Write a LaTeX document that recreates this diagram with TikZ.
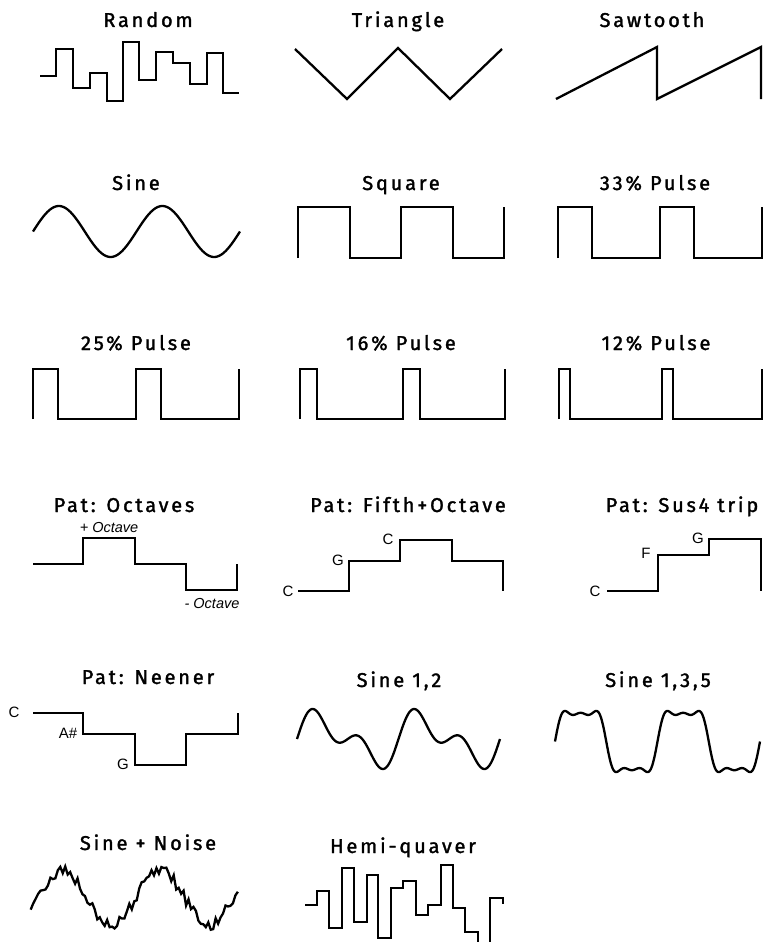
\documentclass[tikz,border=0pt]{standalone}
\usepackage{fontspec}
\setmainfont{Liberation Sans}
\newfontfamily\titlefont{Fira Sans}[LetterSpace=14, FakeBold=1.6]
\begin{document}
\begin{tikzpicture}[x=1pt,y=-1pt,
  wave/.style={line width=2.3pt, line join=miter, line cap=butt},
  title/.style={font=\titlefont\fontsize{20}{22}\selectfont, inner sep=0pt, anchor=base},
  note/.style={font=\fontsize{15}{17}\selectfont, inner sep=0pt},
  ital/.style={font=\itshape\fontsize{14.5}{16}\selectfont, inner sep=0pt}]
\useasboundingbox (0,0) rectangle (765,942);
\clip (0,0) rectangle (765,942);
% ---- Row 1
\node[title] (tRandom) at (148,27) {Random};
\node[title] (tTri) at (398,27) {Triangle};
\node[title] (tSaw) at (652,27) {Sawtooth};
\draw[wave] (40,76) -- (56,76) -- (56,49) -- (73,49) -- (73,88) -- (90,88) -- (90,73) -- (107,73) -- (107,101) -- (123,101) -- (123,42) -- (139,42) -- (139,80) -- (156,80) -- (156,52) -- (173,52) -- (173,63) -- (190,63) -- (190,84) -- (207,84) -- (207,53) -- (223,53) -- (223,93) -- (239,93);
\draw[wave] (295,49) -- (347,99) -- (398,48) -- (450,99) -- (502,49);
\draw[wave] (556,99) -- (657,47) -- (657,99) -- (761,47) -- (761,99);
% ---- Row 2
\node[title] (tSine) at (136,190) {Sine};
\node[title] (tSq) at (401,190) {Square};
\node[title] (t33) at (655,190) {33\% Pulse};
\draw[wave] plot[domain=0:720, samples=145] ({33+\x/720*207}, {231.5-25.5*sin(\x)});
\draw[wave] (298,258) -- (298,207) -- (350,207) -- (350,258) -- (401,258) -- (401,207) -- (453,207) -- (453,258) -- (504,258) -- (504,207);
\draw[wave] (558,258) -- (558,207) -- (592,207) -- (592,258) -- (660,258) -- (660,207) -- (694,207) -- (694,258) -- (762,258) -- (762,207);
% ---- Row 3
\node[title] (t25) at (136,350) {25\% Pulse};
\node[title] (t16) at (401,350) {16\% Pulse};
\node[title] (t12) at (656,350) {12\% Pulse};
\draw[wave] (33,419) -- (33,369) -- (58,369) -- (58,419) -- (136,419) -- (136,369) -- (161,369) -- (161,419) -- (239,419) -- (239,369);
\draw[wave] (300,419) -- (300,369) -- (317,369) -- (317,419) -- (403,419) -- (403,369) -- (420,369) -- (420,419) -- (505,419) -- (505,369);
\draw[wave] (559,419) -- (559,369) -- (570,369) -- (570,419) -- (662,419) -- (662,369) -- (673,369) -- (673,419) -- (762,419) -- (762,369);
% ---- Row 4
\node[title] (tOct) at (124,512) {Pat: Octaves};
\node[ital] (lPlus) at (109,528) {+ Octave};
\node[ital] (lMinus) at (212,604) {- Octave};
\draw[wave] (33,564) -- (83,564) -- (83,538) -- (135,538) -- (135,564) -- (186,564) -- (186,590) -- (237,590) -- (237,564);
\node[title] (tFifth) at (408,512) {Pat: Fifth+Octave};
\node[note] (lC1) at (288,591) {C};
\node[note] (lG1) at (338,560) {G};
\node[note] (lC2) at (388,539) {C};
\draw[wave] (298,591) -- (349,591) -- (349,561) -- (400,561) -- (400,540) -- (452,540) -- (452,561) -- (503,561) -- (503,591);
\node[title] (tSus) at (682,512) {Pat: Sus4 trip};
\node[note] (lC3) at (595,591) {C};
\node[note] (lF) at (646,553) {F};
\node[note] (lG2) at (698,538) {G};
\draw[wave] (607,591) -- (658,591) -- (658,555) -- (709,555) -- (709,539) -- (761,539) -- (761,591);
% ---- Row 5
\node[title] (tNeen) at (148,684) {Pat: Neener};
\node[note] (lC4) at (14,712) {C};
\node[note] (lAs) at (68,733) {A\#};
\node[note] (lG3) at (123,764) {G};
\draw[wave] (33,713) -- (83,713) -- (83,734) -- (135,734) -- (135,765) -- (186,765) -- (186,734) -- (238,734) -- (238,713);
\node[title] (tS12) at (399,687) {Sine 1,2};
\draw[wave] plot[domain=0:720, samples=181] ({297+\x/720*203}, {739-19.1*(sin(\x)+0.8*sin(2*\x))});
\node[title] (tS135) at (658,687) {Sine 1,3,5};
\draw[wave] plot[domain=0:720, samples=241] ({555+\x/720*205}, {741.5-35*(sin(\x)+0.3*sin(3*\x)+0.12*sin(5*\x))});
% ---- Row 6
\node[title] (tNoise) at (148,850) {Sine + Noise};
\pgfmathsetseed{11}
\draw[wave] plot[domain=-25:736, samples=85] ({37.5+\x/360*98}, {898-27*sin(\x)+6*rand});
\node[title] (tHemi) at (403,853) {Hemi-quaver};
\draw[wave] (305,905) -- (317,905) -- (317,891) -- (329,891) -- (329,928) -- (342,928) -- (342,868) -- (354,868) -- (354,922) -- (367,922) -- (367,875) -- (378,875) -- (378,938) -- (391,938) -- (391,888) -- (403,888) -- (403,881) -- (416,881) -- (416,915) -- (428,915) -- (428,905) -- (441,905) -- (441,865) -- (453,865) -- (453,908) -- (465,908) -- (465,932) -- (478,932) -- (478,960) -- (490,960) -- (490,898) -- (503,898) -- (503,904);
\end{tikzpicture}
\end{document}
